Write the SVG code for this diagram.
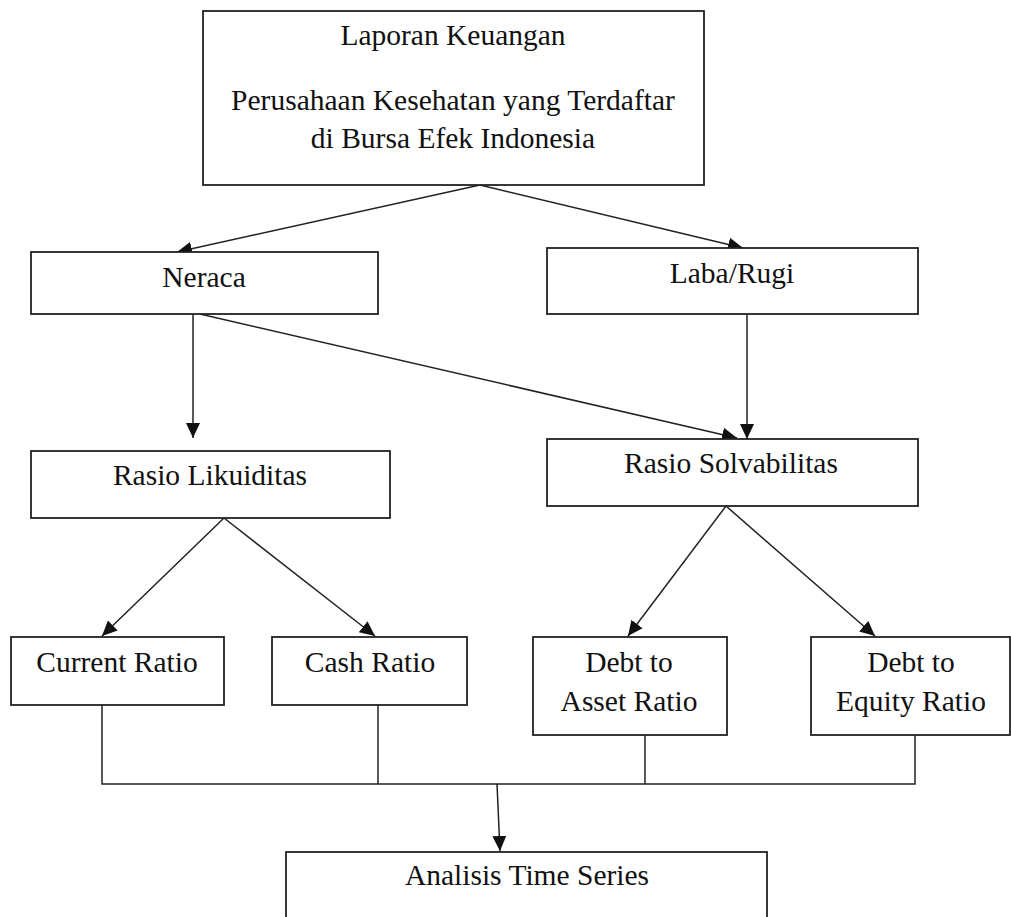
<svg xmlns="http://www.w3.org/2000/svg" width="1011" height="917" viewBox="0 0 1011 917">
<style>
.box{fill:#fff;stroke:#222;stroke-width:1.8}
.t{font-family:"Liberation Serif","Times New Roman",serif;font-size:29.5px;fill:#111;text-anchor:middle}
.ln{fill:none;stroke:#222;stroke-width:1.5}
</style>
<defs>
<marker id="ah" markerUnits="userSpaceOnUse" markerWidth="16" markerHeight="16" viewBox="0 0 16 16" refX="15" refY="8" orient="auto">
<path d="M0,1 L15,8 L0,15 Z" fill="#111"/>
</marker>
</defs>
<rect width="1011" height="917" fill="#fff"/>
<g id="connectors">
<line class="ln" x1="480" y1="185" x2="177" y2="252" marker-end="url(#ah)"/>
<line class="ln" x1="480" y1="185" x2="743" y2="248" marker-end="url(#ah)"/>
<line class="ln" x1="193" y1="314" x2="193" y2="438" marker-end="url(#ah)"/>
<line class="ln" x1="200" y1="314" x2="737" y2="438" marker-end="url(#ah)"/>
<line class="ln" x1="747" y1="314" x2="747" y2="439" marker-end="url(#ah)"/>
<line class="ln" x1="224" y1="518" x2="102" y2="636" marker-end="url(#ah)"/>
<line class="ln" x1="224" y1="518" x2="375" y2="636" marker-end="url(#ah)"/>
<line class="ln" x1="726" y1="506" x2="628" y2="636" marker-end="url(#ah)"/>
<line class="ln" x1="726" y1="506" x2="875" y2="636" marker-end="url(#ah)"/>
<polyline class="ln" points="102,705 102,784 915,784 915,735"/>
<line class="ln" x1="378" y1="705" x2="378" y2="784"/>
<line class="ln" x1="645" y1="735" x2="645" y2="784"/>
<line class="ln" x1="497" y1="784" x2="500" y2="851" marker-end="url(#ah)"/>
</g>
<g id="laporan">
<rect class="box" x="203" y="11" width="501" height="174"/>
<text class="t" x="453" y="45">Laporan Keuangan</text>
<text class="t" x="453" y="110">Perusahaan Kesehatan yang Terdaftar</text>
<text class="t" x="453" y="148">di Bursa Efek Indonesia</text>
</g>
<g id="neraca">
<rect class="box" x="31" y="252" width="347" height="62"/>
<text class="t" x="204" y="287">Neraca</text>
</g>
<g id="labarugi">
<rect class="box" x="547" y="248" width="371" height="66"/>
<text class="t" x="732" y="283">Laba/Rugi</text>
</g>
<g id="likuiditas">
<rect class="box" x="31" y="451" width="359" height="67"/>
<text class="t" x="210" y="485">Rasio Likuiditas</text>
</g>
<g id="solvabilitas">
<rect class="box" x="547" y="439" width="371" height="67"/>
<text class="t" x="731" y="473">Rasio Solvabilitas</text>
</g>
<g id="current">
<rect class="box" x="11" y="637" width="213" height="68"/>
<text class="t" x="117" y="672">Current Ratio</text>
</g>
<g id="cash">
<rect class="box" x="272" y="637" width="195" height="68"/>
<text class="t" x="370" y="672">Cash Ratio</text>
</g>
<g id="dta">
<rect class="box" x="533" y="637" width="194" height="98"/>
<text class="t" x="629" y="672">Debt to</text>
<text class="t" x="629" y="711">Asset Ratio</text>
</g>
<g id="dte">
<rect class="box" x="811" y="637" width="199" height="98"/>
<text class="t" x="911" y="672">Debt to</text>
<text class="t" x="911" y="711">Equity Ratio</text>
</g>
<g id="analisis">
<rect class="box" x="286" y="852" width="481" height="80"/>
<text class="t" x="527" y="885">Analisis Time Series</text>
</g>
</svg>
